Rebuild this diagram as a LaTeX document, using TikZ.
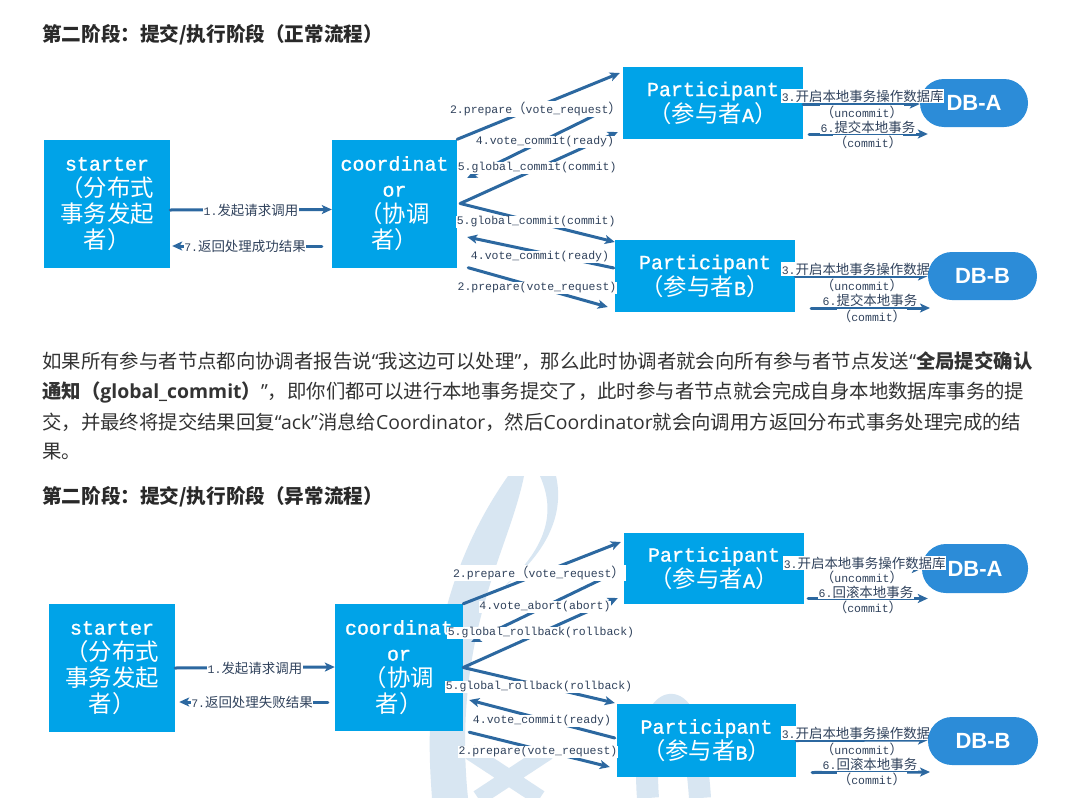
\documentclass[tikz,border=0pt]{standalone}
\usepackage{fontspec}
\usetikzlibrary{arrows.meta}
\newfontfamily\zhfont{Noto Sans CJK SC}
\newfontfamily\zhsm[Scale=1.17]{Noto Sans CJK SC}
\newfontfamily\monofont{Liberation Mono}
\newfontfamily\boxfont[FakeBold=1.2]{Liberation Mono}
\newfontfamily\dbfont{Liberation Sans}
\newfontfamily\enfont{Open Sans}
\newcommand\zh[1]{{\zhsm #1}}
\newcommand\en[1]{{\enfont #1}}
\begin{document}
\begin{tikzpicture}[x=1pt,y=-1pt,line join=round,line cap=round]
            \definecolor{boxc}{RGB}{0,163,232}
            \definecolor{dbc}{RGB}{44,140,216}
            \definecolor{arrc}{RGB}{44,104,160}
            \definecolor{lblc}{RGB}{48,66,92}
            \definecolor{txtc}{RGB}{51,51,51}
            \definecolor{wmc}{RGB}{216,230,242}
            \tikzset{
                box/.style={fill=boxc,text=white,align=center,inner sep=0pt,font=\fontsize{20}{26}\selectfont\boxfont},
                dbpill/.style={fill=dbc,text=white,rounded corners=24pt,inner sep=0pt,font=\fontsize{22}{24}\selectfont\dbfont\bfseries},
                lbl/.style={fill=white,text=lblc,inner sep=0.6pt,font=\fontsize{11.5}{13}\selectfont\monofont},
                arr/.style={draw=arrc,line width=3pt,-{Stealth[length=10pt,width=9pt,inset=2.5pt]}},
                head/.style={anchor=west,inner sep=0pt,text=txtc!80!black,font=\fontsize{19.6}{22}\selectfont\zhfont\bfseries},
                para/.style={anchor=west,inner sep=0pt,text=txtc,font=\fontsize{19.4}{22}\selectfont\zhfont}
            }
            \useasboundingbox (0,0) rectangle (1082,798);
            \fill[white] (0,0) rectangle (1082,798);
            %watermark
            \fill[wmc] (508,476) .. controls (470,530) and (440,600) .. (432,690) .. controls (428,740) and (430,770) .. (432,798) -- (468,798) .. controls (462,740) and (465,680) .. (480,620) .. controls (495,560) and (515,520) .. (524,476) -- cycle;
            \fill[wmc] (540,476) .. controls (556,512) and (548,548) .. (500,590) .. controls (540,560) and (566,520) .. (556,476) -- cycle;
            \draw[wmc,line width=16pt,line cap=butt] (470,752) -- (540,798) (548,752) -- (478,798);
            \draw[wmc,line width=22pt,line cap=butt] (648,798) .. controls (640,700) and (690,650) .. (700,798);
            
            \node[head] (h1) at (42,35) {第二阶段：提交/执行阶段（正常流程）};
            
            \node[box,minimum width=126pt,minimum height=128pt] (st1) at (107,204) {starter\\\zh{（分布式}\\\zh{事务发起}\\\zh{者）}};
            \node[box,minimum width=125pt,minimum height=128pt] (co1) at (394.5,203.5) {coordinat\\or\\\zh{（协调}\\\zh{者）}};
            \node[box,minimum width=180pt,minimum height=72pt] (pa1) at (713,103) {Participant\\\zh{（参与者}A\zh{）}};
            \node[box,minimum width=180pt,minimum height=72pt] (pb1) at (705,276) {Participant\\\zh{（参与者}B\zh{）}};
            
            \draw[arr] ([yshift=-6pt]st1.east) -- ([yshift=-6pt]co1.west);
            \draw[arr] ([shift={(-10,42.5)}]co1.west) -- ([shift={(2,42)}]st1.east);
            \node[lbl] (l1) at (251,210) {1.\zh{发起请求调用}};
            \node[lbl] (l7) at (245,246) {7.\zh{返回处理成功结果}};
            
            \draw[arr] (co1.north east) -- ([shift={(-3,-30)}]pa1.west);
            \draw[arr] ([shift={(-3,0)}]pa1.west) -- ([shift={(10,-25.5)}]co1.east);
            \draw[arr] ([shift={(3,0)}]co1.east) -- ([shift={(-5,29)}]pa1.west);
            \draw[arr] ([shift={(3,0)}]co1.east) -- ([shift={(0,-34)}]pb1.west);
            \draw[arr] ([shift={(-1,-8)}]pb1.west) -- ([shift={(10,33.5)}]co1.east);
            \draw[arr] ([shift={(11,0)}]co1.south east) -- ([shift={(-7,31)}]pb1.west);
            \node[lbl] (a2) at (536,109) {2.prepare\zh{（}vote\_request\zh{）}};
            \node[lbl] (a4) at (545,142) {4.vote\_commit(ready)};
            \node[lbl,anchor=west] (a5) at (457,168) {5.global\_commit(commit)};
            \node[lbl,anchor=west] (b5) at (456,222) {5.global\_commit(commit)};
            \node[lbl] (b4) at (540,257) {4.vote\_commit(ready)};
            \node[lbl] (b2) at (537,288) {2.prepare(vote\_request)};
            
            \node[dbpill,minimum width=108pt,minimum height=48pt] (dba1) at (974,103) {DB-A};
            \draw[arr] ([yshift=-1pt]pa1.east) -- ([yshift=-1pt]dba1.west);
            \draw[arr] ([shift={(6,31)}]pa1.east) -- ([shift={(8,31)}]dba1.west);
            \node[lbl,anchor=west] (c3) at (781,96) {3.\zh{开启本地事务操作数据库}};
            \node[lbl] (c3u) at (862,112) {\zh{（}uncommit\zh{）}};
            \node[lbl] (c6) at (868,127) {6.\zh{提交本地事务}};
            \node[lbl] (c6c) at (868,142) {\zh{（}commit\zh{）}};
            \draw[arr] (pb1.east) -- (928,276) coordinate (dbbw);
            \draw[arr] ([shift={(16,32)}]pb1.east) -- ([shift={(2,32)}]dbbw);
            \node[lbl,anchor=west] (d3) at (781,269) {3.\zh{开启本地事务操作数据库}};
            \node[lbl] (d3u) at (862,285) {\zh{（}uncommit\zh{）}};
            \node[lbl] (d6) at (870,300) {6.\zh{提交本地事务}};
            \node[lbl] (d6c) at (872,316) {\zh{（}commit\zh{）}};
            \node[dbpill,minimum width=109pt,minimum height=48pt] (dbb1) at (982.5,276) {DB-B};
            
            \node[para] (p1) at (42,361) {如果所有参与者节点都向协调者报告说\en{“}我这边可以处理\en{”}，那么此时协调者就会向所有参与者节点发送\en{“}\textbf{全局提交确认}};
            \node[para] (p2) at (42,392) {\textbf{通知（\en{global\_commit}）}\en{”}，即你们都可以进行本地事务提交了，此时参与者节点就会完成自身本地数据库事务的提};
            \node[para] (p3) at (42,422) {交，并最终将提交结果回复\en{“ack”}消息给\en{Coordinator}，然后\en{Coordinator}就会向调用方返回分布式事务处理完成的结};
            \node[para] (p4) at (42,452) {果。};
            
            \node[head] (h2) at (42,497) {第二阶段：提交/执行阶段（异常流程）};
            
            \node[box,minimum width=126pt,minimum height=128pt] (st2) at (112,668) {starter\\\zh{（分布式}\\\zh{事务发起}\\\zh{者）}};
            \node[box,minimum width=128pt,minimum height=127pt] (co2) at (399,667.5) {coordinat\\or\\\zh{（协调}\\\zh{者）}};
            \node[box,minimum width=180pt,minimum height=71pt] (pa2) at (714,568.5) {Participant\\\zh{（参与者}A\zh{）}};
            \node[box,minimum width=179pt,minimum height=73pt] (pb2) at (706.5,740.5) {Participant\\\zh{（参与者}B\zh{）}};
            
            \draw[arr] (st2.east) -- ([yshift=0.5pt]co2.west);
            \draw[arr] ([shift={(-7,34.5)}]co2.west) -- ([shift={(4,34)}]st2.east);
            \node[lbl] (m1) at (255,668) {1.\zh{发起请求调用}};
            \node[lbl] (m7) at (252,702) {7.\zh{返回处理失败结果}};
            
            \draw[arr] (co2.north east) -- ([shift={(-3,-26.5)}]pa2.west);
            \draw[arr] ([shift={(-2,1)}]pa2.west) -- ([shift={(8,-25.5)}]co2.east);
            \draw[arr] (co2.east) -- ([shift={(-6,29.5)}]pa2.west);
            \draw[arr] (co2.east) -- ([shift={(-2,-37.5)}]pb2.west);
            \draw[arr] ([shift={(-2,-2.5)}]pb2.west) -- ([shift={(6,32.5)}]co2.east);
            \draw[arr] ([shift={(6,1)}]co2.south east) -- ([shift={(-7,26.5)}]pb2.west);
            \node[lbl] (e2) at (539,573) {2.prepare\zh{（}vote\_request\zh{）}};
            \node[lbl] (e4) at (545,607) {4.vote\_abort(abort)};
            \node[lbl,anchor=west] (e5) at (447,633) {5.global\_rollback(rollback)};
            \node[lbl,anchor=west] (f5) at (445,687) {5.global\_rollback(rollback)};
            \node[lbl] (f4) at (542,721) {4.vote\_commit(ready)};
            \node[lbl] (f2) at (538,752) {2.prepare(vote\_request)};
            
            \node[dbpill,minimum width=106pt,minimum height=49pt] (dba2) at (975,568.5) {DB-A};
            \draw[arr] (pa2.east) -- (dba2.west);
            \draw[arr] ([shift={(4,30)}]pa2.east) -- ([shift={(6,30)}]dba2.west);
            \node[lbl,anchor=west] (g3) at (783,563) {3.\zh{开启本地事务操作数据库}};
            \node[lbl] (g3u) at (862,577) {\zh{（}uncommit\zh{）}};
            \node[lbl] (g6) at (866,592) {6.\zh{回滚本地事务}};
            \node[lbl] (g6c) at (868,607) {\zh{（}commit\zh{）}};
            \draw[arr] (pb2.east) -- (928,740) coordinate (dbbw2);
            \draw[arr] ([shift={(16,32)}]pb2.east) -- ([shift={(2,32)}]dbbw2);
            \node[lbl,anchor=west] (k3) at (781,733) {3.\zh{开启本地事务操作数据库}};
            \node[lbl] (k3u) at (862,749) {\zh{（}uncommit\zh{）}};
            \node[lbl] (k6) at (870,764) {6.\zh{回滚本地事务}};
            \node[lbl] (k6c) at (872,779) {\zh{（}commit\zh{）}};
            \node[dbpill,minimum width=110pt,minimum height=48pt] (dbb2) at (983,741) {DB-B};
\end{tikzpicture}
\end{document}
